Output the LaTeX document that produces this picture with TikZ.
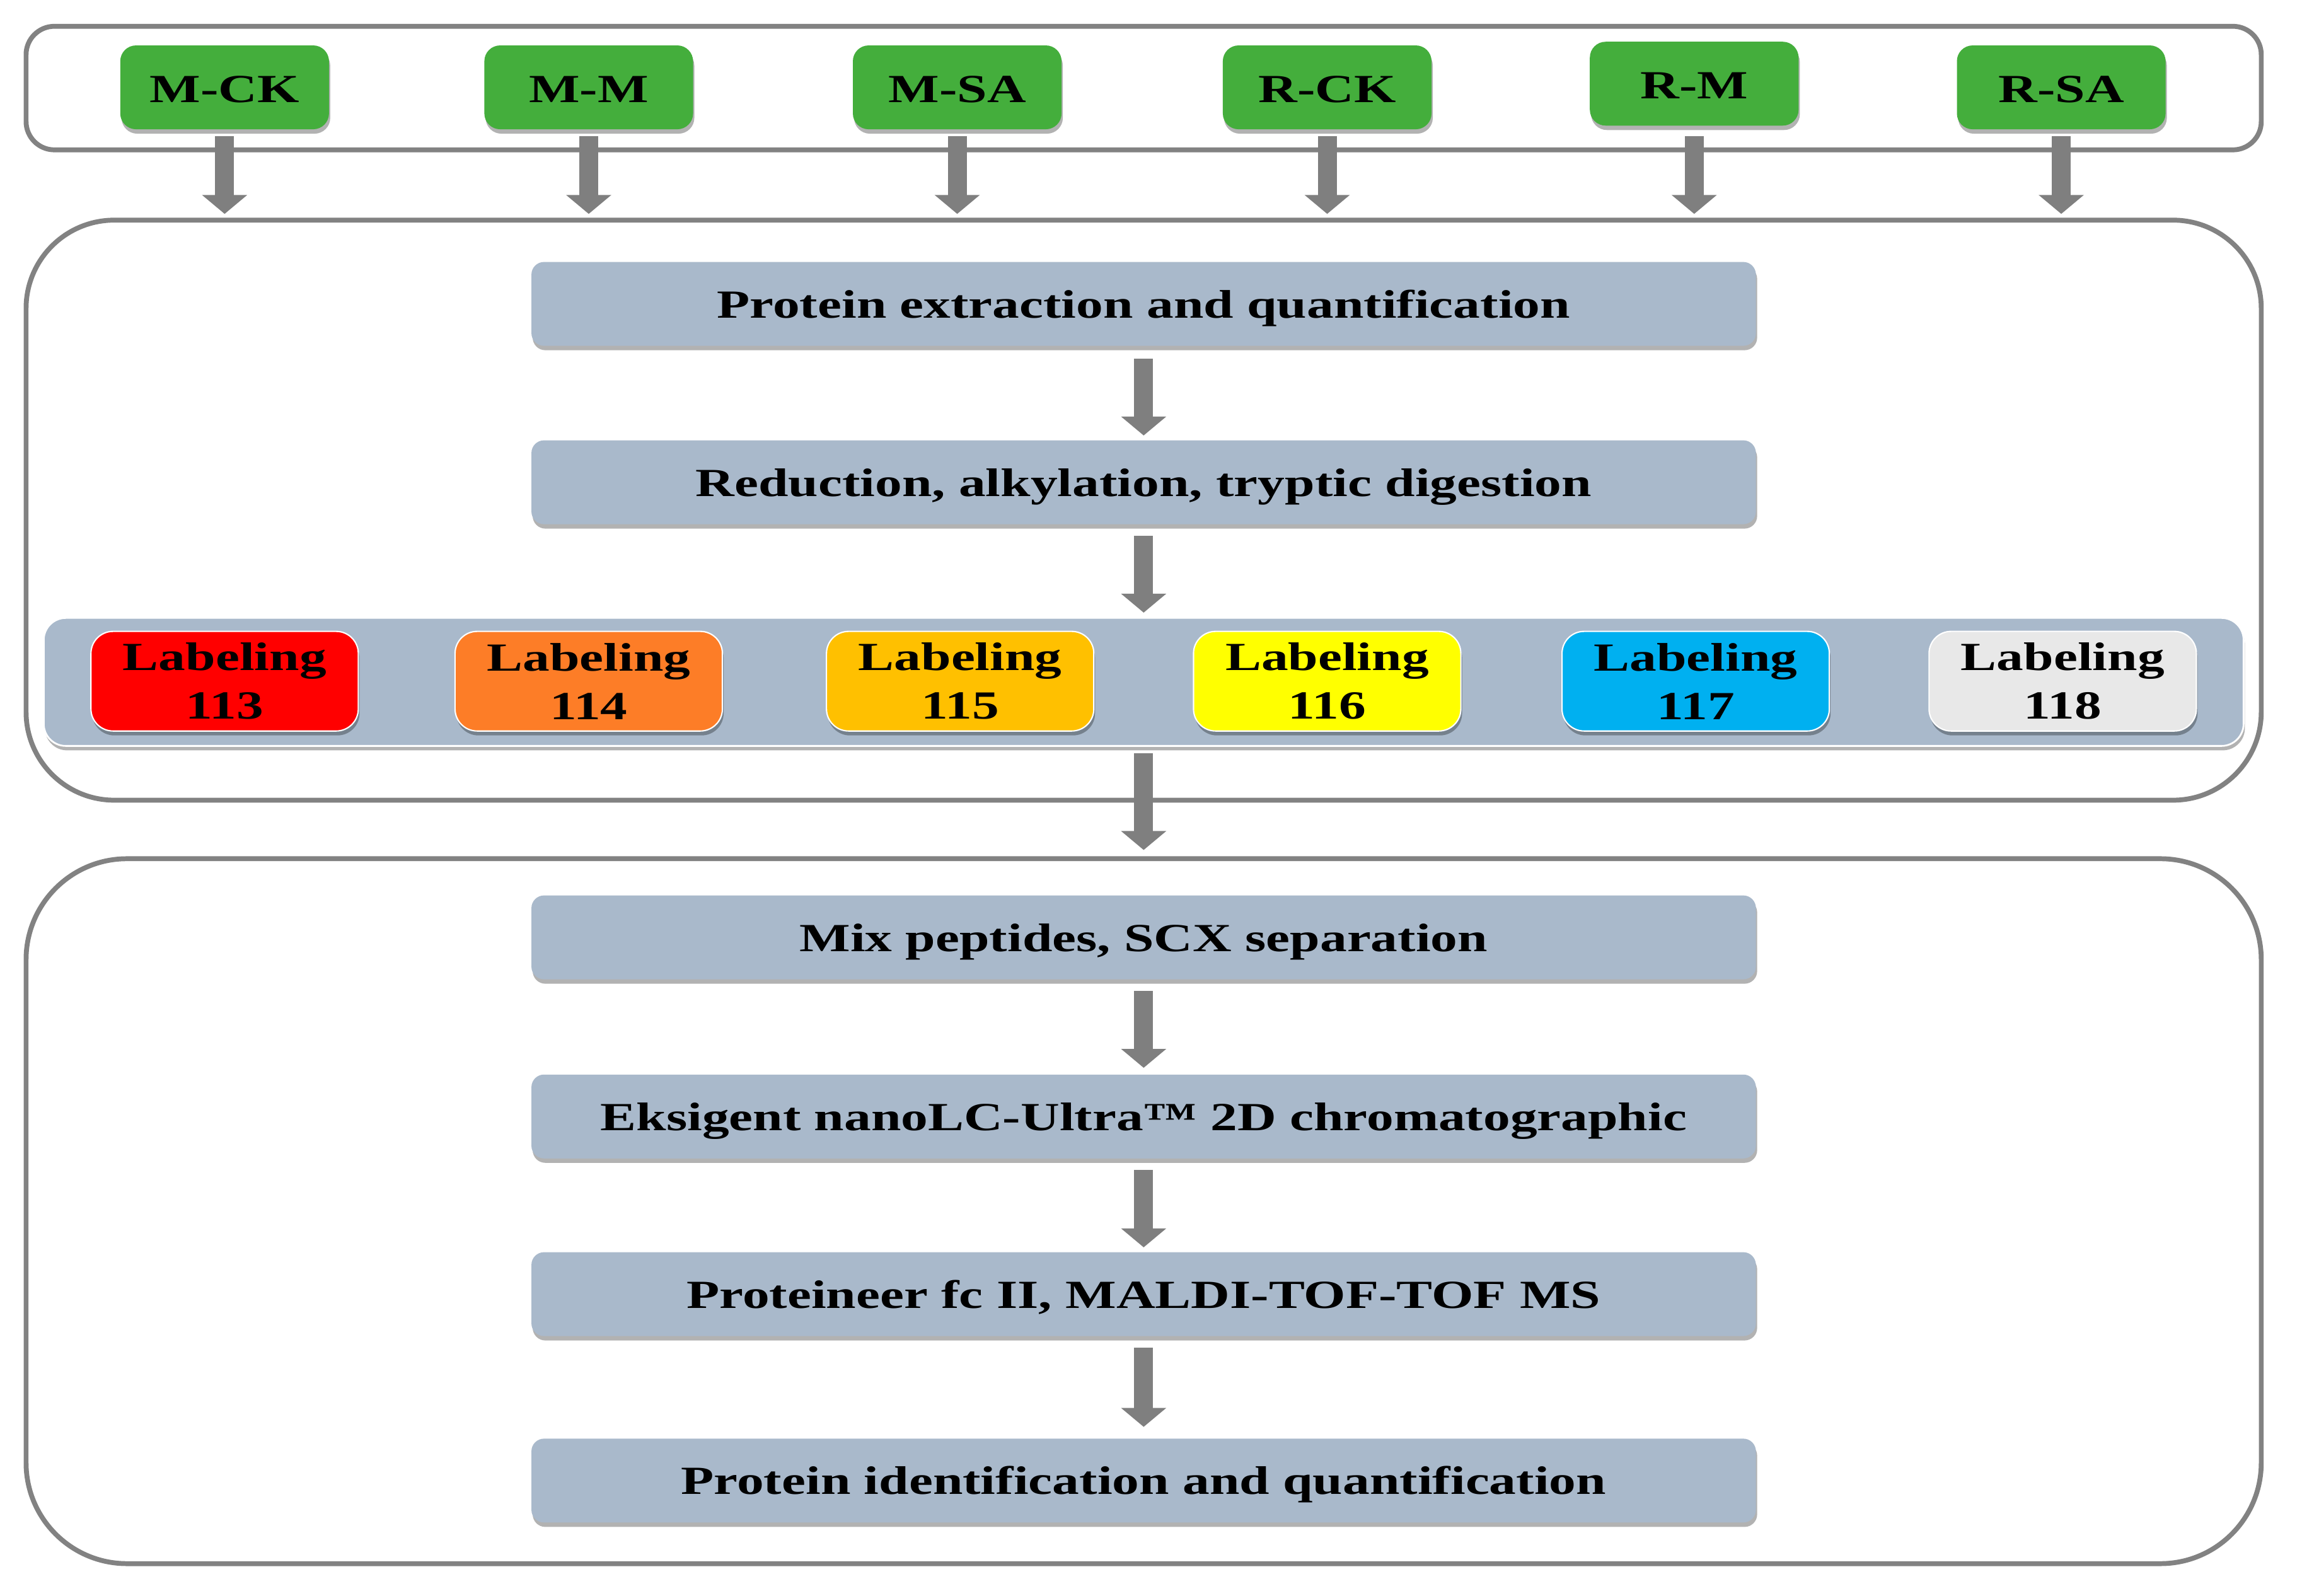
\documentclass[tikz,border=0pt]{standalone}
\usepackage{fontspec}
\setmainfont{Liberation Serif}[FakeStretch=1.35]
\usetikzlibrary{arrows.meta,shadows}
\definecolor{boxgreen}{HTML}{44AE3C}
\definecolor{stepblue}{HTML}{A9B9CB}
\definecolor{outlinegray}{HTML}{828282}
\definecolor{arrowgray}{HTML}{7F7F7F}
\definecolor{lab113}{HTML}{FF0000}
\definecolor{lab114}{HTML}{FD7D27}
\definecolor{lab115}{HTML}{FFC000}
\definecolor{lab116}{HTML}{FFFF00}
\definecolor{lab117}{HTML}{00B0F0}
\definecolor{lab118}{HTML}{E8E8E8}
\newcommand\myfsz{\fontsize{18}{21.9}\selectfont}
\begin{document}
\begin{tikzpicture}[x=0.02329cm,y=-0.02329cm,
  container/.style={draw=outlinegray, line width=2.2pt, fill=white, rounded corners=#1, inner sep=0pt, minimum width=35.45cm},
  softshadow/.style={drop shadow={shadow xshift=0.02cm, shadow yshift=-0.07cm, fill=black, opacity=0.3}},
  greenbox/.style={fill=boxgreen, rounded corners=0.25cm, minimum width=3.31cm, minimum height=1.33cm, inner sep=0pt, text height=0.48cm, text depth=0cm, font=\myfsz\bfseries, softshadow},
  stepbox/.style={fill=stepblue, rounded corners=0.2cm, minimum width=19.42cm, minimum height=1.33cm, inner sep=0pt, text height=0.58cm, text depth=0.14cm, font=\myfsz\bfseries, softshadow},
  labbox/.style={fill=#1, draw=white, line width=0.6pt, rounded corners=0.35cm, minimum width=4.24cm, minimum height=1.58cm, inner sep=0pt, align=center, font=\myfsz\bfseries, softshadow},
  arr/.style={draw=arrowgray, line width=0.3cm, -{Triangle[width=0.7cm,length=0.3cm]}}
]
\useasboundingbox (0,0) rectangle (1568,1087);
\fill[white] (0,0) rectangle (1568,1087);

% containers
\node[container=0.45cm, minimum height=1.96cm] (top) at (779,60) {};
\node[container=1.4cm, minimum height=9.2cm] (mid) at (779,347.5) {};
\node[container=1.6cm, minimum height=11.18cm] (bot) at (779,825) {};

% sample boxes
\node[greenbox] (mck) at (153,59.5) {M-CK};
\node[greenbox] (mm)  at (401,59.5) {M-M};
\node[greenbox] (msa) at (652,59.5) {M-SA};
\node[greenbox] (rck) at (904,59.5) {R-CK};
\node[greenbox] (rm)  at (1154,57) {R-M};
\node[greenbox] (rsa) at (1404,59.5) {R-SA};

% steps in middle container
\node[stepbox] (s1) at (779,207) {Protein extraction and quantification};
\node[stepbox] (s2) at (779,328.5) {Reduction, alkylation, tryptic digestion};

% labeling band
\node[fill=stepblue, draw=white, line width=0.8pt, rounded corners=0.35cm, minimum width=34.89cm, minimum height=2.03cm, inner sep=0pt, softshadow] (band) at (779,464.5) {};
\node[labbox=lab113] (l113) at (153,464) {Labeling\\113};
\node[labbox=lab114] (l114) at (401,464) {Labeling\\114};
\node[labbox=lab115] (l115) at (654,464) {Labeling\\115};
\node[labbox=lab116] (l116) at (904,464) {Labeling\\116};
\node[labbox=lab117] (l117) at (1155,464) {Labeling\\117};
\node[labbox=lab118] (l118) at (1405,464) {Labeling\\118};

% steps in bottom container
\node[stepbox] (s3) at (779,638.5) {Mix peptides, SCX separation};
\node[stepbox] (s4) at (779,760.5) {Eksigent nanoLC-Ultra™ 2D chromatographic};
\node[stepbox] (s5) at (779,881.5) {Proteineer fc II, MALDI-TOF-TOF MS};
\node[stepbox] (s6) at (779,1008.5) {Protein identification and quantification};

% arrows
\foreach \n in {mck,mm,msa,rck,rm,rsa}
  \draw[arr] ([yshift=-0.1cm]\n.south |- mck.south) -- ([yshift=0.06cm]\n.south |- mid.north);
\draw[arr] ([yshift=-0.2cm]s1.south) -- ([yshift=0.07cm]s2.north);
\draw[arr] ([yshift=-0.18cm]s2.south) -- ([yshift=0.07cm]s2.south |- band.north);
\draw[arr] ([yshift=-0.1cm]band.south) -- ([yshift=0.1cm]bot.north);
\draw[arr] ([yshift=-0.18cm]s3.south) -- ([yshift=0.1cm]s4.north);
\draw[arr] ([yshift=-0.18cm]s4.south) -- ([yshift=0.07cm]s5.north);
\draw[arr] ([yshift=-0.18cm]s5.south) -- ([yshift=0.18cm]s6.north);
\end{tikzpicture}
\end{document}
